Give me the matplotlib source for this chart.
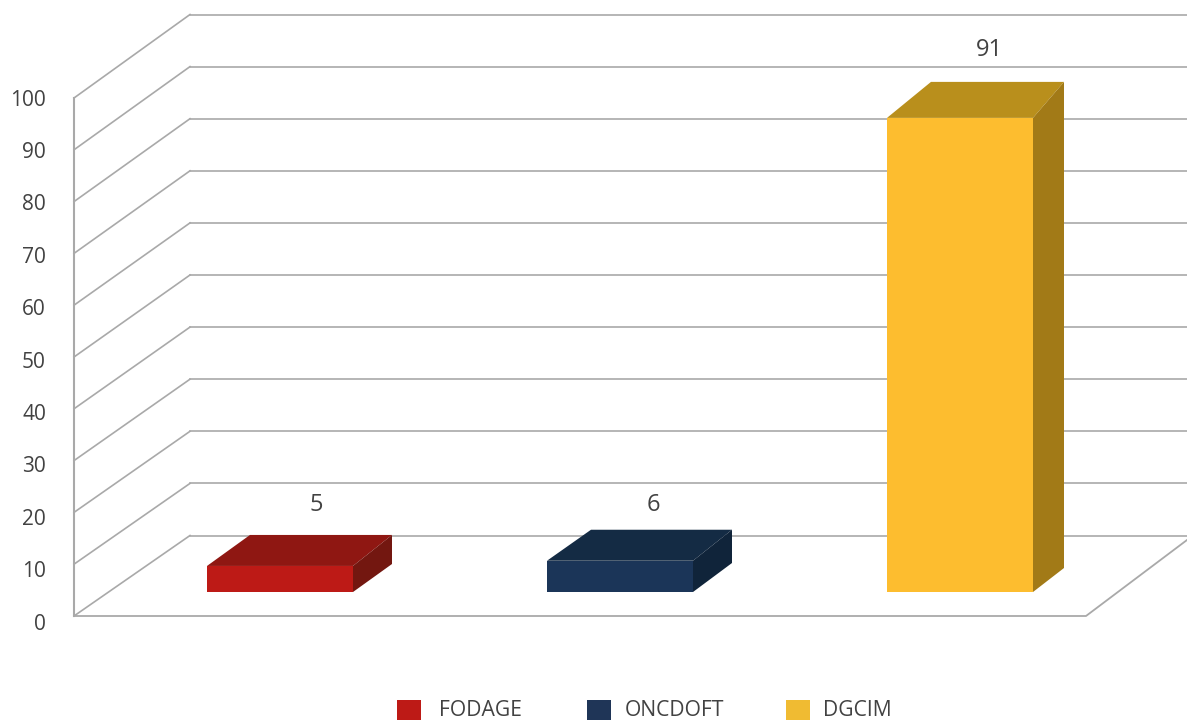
import matplotlib
matplotlib.use("Agg")
import matplotlib.pyplot as plt
from matplotlib.patches import Polygon, Rectangle

categories = ["FODAGE", "ONCDOFT", "DGCIM"]
values = [5, 6, 91]
y_ticks = [0, 10, 20, 30, 40, 50, 60, 70, 80, 90, 100]

front_colors = ["#bd1a16", "#1b3558", "#fdbd2f"]
top_colors = ["#8f1712", "#142b44", "#b98f1c"]
side_colors = ["#731710", "#10243a", "#a27a17"]
legend_colors = ["#bd1a16", "#1f3557", "#f0bb32"]

GRID = "#a9a9a9"
TEXT = "#424242"
FONT = "Open Sans"

# layout, in pixels of the 1187x720 canvas
W, H = 1187, 720
BAR_SPACING = 340
FIRST_BAR = 280
BAR_WIDTH = 146
PX_PER_UNIT = 5.21
BACK_ZERO = 535.5
FLOOR = 592
FRONT_X, BACK_X = 74, 190
FRONT_ZERO, FRONT_PX_PER_UNIT = 616, 5.18
LABEL_ZERO, LABEL_PX_PER_UNIT = 624, 5.24

# depth of each box: left dx, right dx, top dy, bottom dy
box_depth = [(43, 39, 31, 28), (44, 39, 31, 29), (44, 31, 36, 24)]
label_offset = [(36, 61), (33, 56), (29, 68)]


def xs(px):
    return (px - FIRST_BAR) / BAR_SPACING


def ys(px):
    return (BACK_ZERO - px) / PX_PER_UNIT


fig = plt.figure(figsize=(W / 100, H / 100), dpi=100)
ax = fig.add_axes([0, 0, 1, 1])
ax.set_xlim(xs(0), xs(W))
ax.set_ylim(ys(H), ys(0))
ax.axis("off")

# walls and floor
for v in y_ticks:
    back_y = BACK_ZERO - v * PX_PER_UNIT
    front_y = FRONT_ZERO - v * FRONT_PX_PER_UNIT
    ax.plot([xs(BACK_X), xs(W)], [ys(back_y), ys(back_y)], color=GRID, lw=1.2, zorder=1)
    ax.plot([xs(FRONT_X), xs(BACK_X)], [ys(front_y), ys(back_y)], color=GRID, lw=1.2, zorder=1)
    ax.text(xs(46), ys(LABEL_ZERO - v * LABEL_PX_PER_UNIT), str(v), ha="right", va="center",
            fontsize=15, color=TEXT, family=FONT)

ax.plot([xs(FRONT_X), xs(FRONT_X)], [ys(FRONT_ZERO), ys(98)], color=GRID, lw=1.5, zorder=1)
ax.plot([xs(FRONT_X), xs(1086), xs(W)], [ys(FRONT_ZERO), ys(FRONT_ZERO), ys(540)],
        color=GRID, lw=1.3, zorder=1)

# boxes
floor = ys(FLOOR)
width = BAR_WIDTH / BAR_SPACING
for i, v in enumerate(values):
    left = i - width / 2
    right = i + width / 2
    top = floor + v
    ldx, rdx, tdy, bdy = box_depth[i]
    ldx, rdx = ldx / BAR_SPACING, rdx / BAR_SPACING
    tdy, bdy = tdy / PX_PER_UNIT, bdy / PX_PER_UNIT

    ax.bar(i, v, width=width, bottom=floor, color=front_colors[i], zorder=4)
    ax.add_patch(Polygon([(left, top), (left + ldx, top + tdy), (right + rdx, top + tdy), (right, top)],
                         closed=True, color=top_colors[i], lw=0, zorder=3))
    ax.add_patch(Polygon([(right, top), (right + rdx, top + tdy), (right + rdx, floor + bdy), (right, floor)],
                         closed=True, color=side_colors[i], lw=0, zorder=3))

    off_x, off_y = label_offset[i]
    ax.text(i + off_x / BAR_SPACING, top + off_y / PX_PER_UNIT, str(v), ha="center", va="center",
            fontsize=17, color=TEXT, family=FONT)

# legend runs off the bottom edge of the canvas
legend_x = [397, 587, 786]
legend_text_x = [439, 625, 823]
for i, name in enumerate(categories):
    ax.add_patch(Rectangle((xs(legend_x[i]), ys(720)), 24 / BAR_SPACING, 20 / PX_PER_UNIT,
                           color=legend_colors[i], lw=0))
    ax.text(xs(legend_text_x[i]), ys(711), name, ha="left", va="center",
            fontsize=15.2, color=TEXT, family=FONT)

fig.savefig("out.png", dpi=100)
plt.close(fig)
